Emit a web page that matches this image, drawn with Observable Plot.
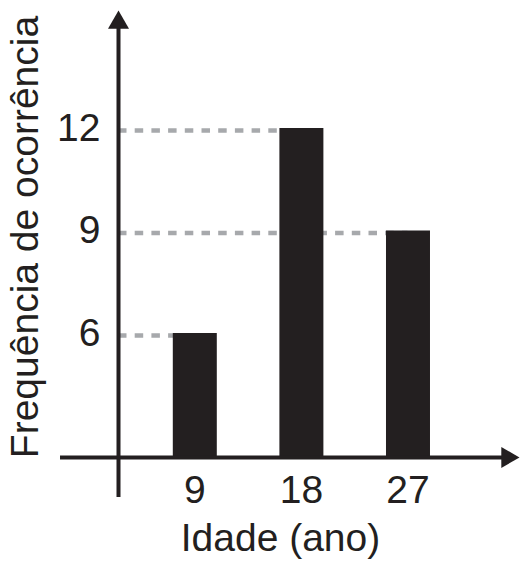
<!DOCTYPE html>
<html>
<head>
<meta charset="utf-8">
<script src="https://cdn.jsdelivr.net/npm/d3@7"></script>
<script src="https://cdn.jsdelivr.net/npm/@observablehq/plot@0.6"></script>
<style>
  html, body { margin: 0; padding: 0; background: #fff; }
  #chart svg { display: block; }
</style>
</head>
<body>
<div id="chart"></div>
<script>
// ---- data ----
const ages = [9, 18, 27];
const freqs = [6, 12, 9];
const yTicks = [6, 9, 12];
const xTickLabels = ["9", "18", "27"];
const yLabel = "Frequência de ocorrência";
const xLabel = "Idade (ano)";

const data = ages.map((a, i) => ({age: a, freq: freqs[i], label: xTickLabels[i]}));

// ---- scale / axis geometry (in data units) ----
const xDomain = [-7.405, 37.175];
const yDomain = [-0.732, 15.746];
const axisX = 2.558;      // where the vertical axis stands
const axisY = 2.371;      // where the horizontal axis stands
const xAxisStart = -2.338, xAxisEnd = 35.2, xArrow = 35.39;
const yAxisStart = 1.2, yAxisEnd = 15.0, yArrow = 15.10;

const ink = "#231f20";
const gray = "#a7a9ac";
const fs = 39;

const chart = Plot.plot({
  width: 528,
  height: 563,
  margin: 0,
  x: {type: "linear", domain: xDomain, axis: null},
  y: {type: "linear", domain: yDomain, axis: null},
  style: {fontFamily: "'Liberation Sans', Arial, Helvetica, sans-serif", background: "#fff", color: ink},
  marks: [
    // dashed guide lines from the vertical axis to each bar
    Plot.ruleY(data, {y: "freq", x1: axisX, x2: "age", stroke: gray, strokeWidth: 4.5, strokeDasharray: "8.5,8.2", dy: 2}),
    // bars
    Plot.ruleX(data, {x: "age", y1: axisY, y2: "freq", stroke: ink, strokeWidth: 44}),
    // axes
    Plot.ruleY([axisY], {x1: xAxisStart, x2: xAxisEnd, stroke: ink, strokeWidth: 4}),
    Plot.ruleX([axisX], {y1: yAxisStart, y2: yAxisEnd, stroke: ink, strokeWidth: 4}),
    // arrow heads
    Plot.dot([0], {x: axisX, y: yArrow, symbol: "triangle", r: 7.8, fill: ink, stroke: null}),
    Plot.dot([0], {x: xArrow, y: axisY, symbol: "triangle", r: 7.8, fill: ink, stroke: null, rotate: 90}),
    // y tick labels
    Plot.text(yTicks, {x: axisX, y: d => d, text: d => String(d), dx: -18, textAnchor: "end", fontSize: fs, fill: ink}),
    // x tick labels
    Plot.text(data, {x: "age", y: axisY, text: "label", dy: 33, fontSize: fs, fill: ink}),
    // axis titles
    Plot.text([xLabel], {frameAnchor: "bottom", text: d => d, textAnchor: "middle", lineAnchor: "middle", dx: 16, dy: -25, fontSize: fs, fill: ink}),
    Plot.text([yLabel], {frameAnchor: "left", text: d => d, textAnchor: "middle", lineAnchor: "middle", rotate: -90, dx: 25, dy: -45, fontSize: fs, fill: ink})
  ]
});

document.getElementById("chart").append(chart);
</script>
</body>
</html>
